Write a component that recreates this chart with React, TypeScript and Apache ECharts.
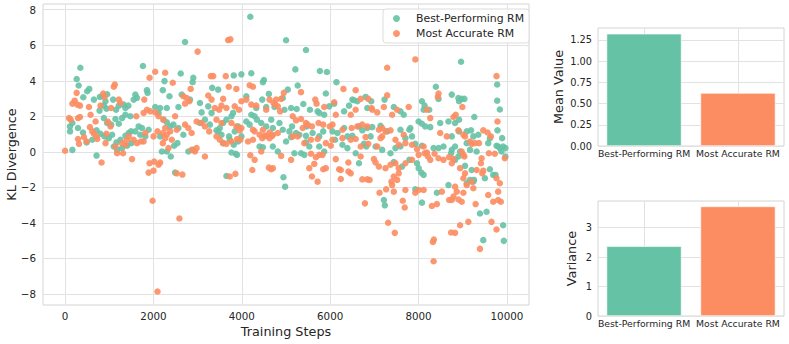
import React, { useEffect, useRef } from 'react';
import * as echarts from 'echarts';

const seriesNames = ['Best-Performing RM', 'Most Accurate RM'];
const barCategories = ['Best-Performing RM', 'Most Accurate RM'];

// [training step, KL divergence]
const bestPerforming: number[][] = [
  [110,1.43],[112,1.15],[165,1.62],[165,0.11],[262,4.10],[307,3.73],[345,4.73],[412,3.07],[292,1.34],[405,1.09],[487,0.53],[500,3.41],[547,3.54],[615,0.68],[652,2.94],[712,-0.21],[712,1.21],[780,2.32],[787,3.09],[802,1.02],[855,3.13],[877,2.60],[877,1.90],[892,0.87],[915,2.85],[937,2.43],[952,3.24],[952,1.62],[990,0.77],[1042,1.53],[1065,0.96],[1087,2.94],[1102,0.30],[1140,1.85],[1155,2.37],[1162,0.53],[1177,0.11],[1215,2.60],[1215,1.58],[1252,0.68],[1290,1.90],[1290,0.21],[1327,2.66],[1365,2.47],[1365,2.09],[1365,0.90],[1402,0.34],[1432,2.60],[1440,1.06],[1477,2.00],[1492,1.15],[1500,0.49],[1552,2.94],
  [2715,6.18],[1762,4.83],[2617,4.41],[2902,4.17],[2887,3.92],[2250,3.98],[1852,3.47],[1867,3.32],[2212,3.47],[1590,3.23],[1627,3.04],[2362,3.13],[2640,3.23],[3330,3.60],[2040,2.52],[2152,2.47],[2302,2.47],[2115,2.19],[2565,2.52],[2827,2.94],[3052,2.75],[3090,2.22],[3240,2.56],[3315,2.19],[1665,1.43],[1740,1.34],[1890,1.24],[1702,0.96],[1590,1.15],[1815,0.87],[2227,1.81],[2302,1.66],[2377,1.43],[2452,1.53],[2565,1.34],[2677,0.96],[2152,0.87],[2190,0.02],[2302,0.02],[2392,-0.26],[2467,0.34],[2542,0.49],[2490,-1.17],[2790,0.02],[2902,0.11],[3052,1.62],[3165,1.81],[3277,1.53],
  [4192,7.60],[5002,6.28],[3817,4.30],[3990,4.36],[4215,4.42],[4477,3.92],[4500,4.04],[3465,3.50],[4612,3.26],[4927,3.03],[5040,3.50],[4102,3.13],[4327,2.47],[4462,2.94],[4552,2.52],[4740,2.52],[4965,2.37],[5115,2.47],[3652,1.81],[3765,2.00],[3802,2.19],[3577,1.62],[3502,1.34],[3427,1.21],[3540,0.96],[3712,0.87],[3840,1.15],[3915,1.43],[4102,1.71],[4215,2.09],[4290,2.00],[4342,1.81],[4177,1.53],[4440,1.62],[4552,1.43],[4665,1.81],[4702,1.34],[4852,1.62],[4927,1.24],[5077,1.15],[5137,1.43],[3577,0.49],[3727,0.68],[3817,0.40],[3915,0.58],[3990,0.87],[3765,-0.04],[3862,-0.11],[3892,-0.17],[3465,1.15],[4402,0.30],[4477,0.26],[4702,0.30],[4815,0.02],[5002,0.58],[5115,0.83],[3652,-1.36],[4942,-1.43],[4980,-1.96],
  [5452,5.73],[5212,4.64],[5767,4.55],[5925,4.49],[5265,3.73],[6142,3.92],[5902,3.28],[5392,2.69],[5242,2.41],[5542,2.37],[5715,2.28],[5752,2.19],[5865,2.09],[5977,2.56],[6090,2.71],[6315,2.28],[6427,2.60],[6502,2.94],[6540,2.90],[6615,2.85],[6802,3.09],[6840,2.47],[6930,2.85],[5227,1.06],[5302,0.96],[5452,0.90],[5467,1.43],[5602,1.06],[5752,0.87],[5842,1.15],[6052,1.15],[6165,1.06],[6315,1.34],[6390,0.87],[6502,0.90],[6652,1.43],[6727,1.21],[6840,1.34],[6915,0.87],[5190,-0.08],[5340,-0.08],[5452,0.53],[5527,0.30],[5752,0.30],[5865,0.02],[6112,0.68],[6277,0.40],[6390,0.21],[6577,-0.08],[6765,0.45],[6817,0.30],[5415,-0.17],[6652,-0.64],
  [8392,3.66],[7230,2.94],[7440,2.52],[7590,2.28],[7665,2.09],[8077,2.85],[8137,2.60],[8115,2.37],[8242,2.37],[8452,2.98],[8490,1.62],[8677,1.71],[6952,1.39],[7140,1.47],[7290,1.15],[7590,1.24],[7792,1.24],[7815,1.34],[8002,1.71],[8077,1.58],[8152,1.43],[8265,1.39],[7027,0.30],[7177,0.11],[7365,-0.08],[7477,0.21],[7590,0.30],[7702,0.77],[7852,0.87],[7927,0.45],[8077,0.34],[8340,0.21],[8452,0.21],[8565,0.30],[8737,-0.08],[7440,-0.58],[7627,-0.83],[7792,-0.45],[8002,-0.92],[8062,-1.17],[8115,-1.30],[7965,-0.64],[7927,-2.11],[8415,-2.30],[8077,-2.86],[7215,-2.71],[7237,-3.01],[8677,-1.87],
  [8962,5.07],[9780,3.79],[9780,2.88],[9840,2.38],[8752,3.22],[8902,3.03],[8977,2.98],[9037,2.98],[8917,2.85],[9262,1.96],[8917,1.81],[8827,1.62],[8752,0.87],[8917,1.15],[9090,1.15],[9187,1.21],[9240,0.87],[9352,0.96],[9615,0.77],[9787,1.21],[9892,0.77],[8752,0.11],[8827,0.30],[8940,0.02],[9090,0.49],[9165,0.11],[9315,0.02],[9577,0.49],[9765,0.34],[9802,0.30],[9840,0.21],[9877,0.02],[9915,0.30],[9967,0.21],[9967,-0.26],[8902,-0.26],[8827,-0.45],[9052,-0.79],[9202,-1.02],[9165,-1.58],[9255,-1.58],[9240,-1.68],[9502,-1.49],[9615,-0.98],[9690,-1.30],[9742,-1.30],[9090,-1.77],[9390,-3.47],[9540,-3.37],[9915,-4.13],[9465,-4.97],[9930,-5.01],
];

const mostAccurate: number[][] = [
  [0,0.06],[90,1.90],[127,1.81],[165,2.71],[217,2.88],[262,3.32],[277,2.66],[292,1.90],[292,0.72],[315,0.45],[337,2.60],[337,1.96],[427,0.83],[487,0.58],[540,2.52],[562,1.39],[577,2.09],[615,1.15],[652,1.02],[690,1.71],[712,0.87],[727,0.73],[802,2.60],[825,-0.60],[862,3.28],[892,3.09],[915,0.49],[937,1.02],[967,1.71],[1027,1.43],[1042,2.47],[1102,3.66],[1125,3.79],[1140,0.30],[1177,-0.08],[1215,2.94],[1252,2.75],[1290,0.49],[1312,-0.08],[1365,0.40],[1402,0.68],[1440,0.87],[1515,-0.41],
  [3000,5.64],[2040,4.51],[2265,4.45],[1912,4.17],[2437,3.89],[3300,4.26],[2842,3.54],[2752,3.03],[2812,2.85],[3240,3.17],[3315,2.94],[2677,3.13],[2715,2.71],[1792,2.94],[1852,2.37],[1927,2.28],[2040,2.22],[1777,2.19],[1612,2.00],[1552,0.68],[1627,0.49],[1717,0.58],[1815,1.06],[1777,0.58],[2115,2.00],[2227,1.81],[2265,1.34],[2377,1.15],[2212,1.06],[2092,1.15],[2002,0.87],[2490,2.00],[2527,1.24],[2715,1.53],[2790,1.34],[2865,1.06],[2977,1.71],[3090,1.62],[3165,1.43],[3262,1.15],[2302,0.96],[2265,0.77],[2212,0.49],[2340,0.21],[2415,0.68],[2865,0.11],[2940,0.02],[2977,0.21],[1912,-0.64],[2017,-0.55],[2115,-0.73],[2152,-0.60],[1890,-1.17],[2002,-1.06],[2527,-1.21],[2655,-1.28],[1980,-2.75],[2587,-3.75],[2092,-7.86],[3165,-0.26],
  [3690,6.29],[3742,6.33],[3637,4.26],[3705,3.66],[3877,3.54],[4177,3.75],[4252,3.66],[3352,4.26],[4950,3.32],[4890,2.98],[4777,2.94],[3577,2.98],[3540,2.60],[3652,2.47],[3487,2.37],[3390,2.47],[3840,2.56],[3937,2.37],[3990,2.85],[4102,2.94],[4215,2.66],[4327,2.60],[4627,2.94],[4717,2.75],[4755,2.66],[4552,2.37],[4815,2.56],[4867,2.28],[3427,1.81],[3540,1.62],[3765,1.62],[3877,1.43],[3990,1.34],[3952,1.21],[4252,1.24],[4290,1.15],[4477,1.24],[4515,0.90],[4402,0.96],[4627,1.09],[4702,0.96],[4815,1.06],[3427,0.87],[3502,0.68],[3577,0.49],[3652,0.45],[3765,0.58],[3892,0.72],[3967,0.68],[4140,0.58],[4252,0.68],[4462,0.77],[4552,0.90],[4627,0.77],[4687,0.90],[4192,-0.19],[4290,-0.45],[4237,-1.02],[4612,-0.89],[4665,-0.98],[4702,-0.92],[4890,-0.23],[5115,-0.45],[3727,-1.39],[3855,-1.24],[4440,0.02],
  [5340,3.36],[6300,3.54],[6577,3.47],[5662,2.94],[5692,2.71],[5865,2.52],[6090,2.79],[6127,2.09],[6465,2.09],[6577,2.37],[6690,2.98],[6862,2.98],[6937,2.47],[5152,2.00],[5227,1.77],[5340,1.85],[5452,1.62],[5377,1.34],[5490,1.53],[5587,1.43],[5737,1.62],[5842,1.53],[5992,1.43],[6052,1.53],[6277,1.24],[6487,1.34],[6615,1.43],[6727,1.53],[6840,1.43],[5152,0.87],[5265,0.87],[5415,0.49],[5565,0.68],[5715,0.72],[5902,0.49],[6015,0.34],[6052,0.68],[6277,0.77],[6465,0.68],[6577,0.72],[6690,0.30],[6802,0.83],[6862,0.45],[5527,-0.92],[5640,-0.68],[5677,-0.30],[5752,-0.17],[5827,-0.17],[5565,-0.11],[5902,-0.92],[5842,-0.98],[6127,-0.41],[6202,-0.98],[6240,-1.02],[6412,-0.60],[6412,-1.11],[6465,-1.21],[6690,-0.26],[6727,-1.55],[6840,-1.55],[6892,-1.58],[5587,-1.39],[5715,-1.68],[6240,-1.53],[6787,-2.90],
  [7290,4.73],[7927,5.20],[7290,3.18],[7515,2.37],[7402,2.09],[7777,2.52],[7065,2.22],[6952,2.37],[7215,2.52],[8190,2.37],[8265,1.90],[8452,3.28],[8437,3.09],[8490,1.06],[8640,0.87],[7102,1.24],[7177,1.34],[7252,1.15],[7365,1.21],[7177,0.87],[7065,0.30],[7140,0.77],[7477,0.68],[7665,0.96],[7552,0.40],[7702,0.49],[7852,0.40],[7965,0.15],[8115,0.30],[8190,-0.04],[6990,-0.41],[7027,-0.60],[7102,-0.83],[7252,-0.92],[7365,-0.73],[7477,-0.64],[7552,-0.92],[7702,-0.64],[7852,-0.45],[8002,-0.17],[8137,-0.08],[8212,-0.26],[8265,-0.45],[8362,-0.11],[8452,-0.36],[8565,-0.45],[8692,-0.30],[7440,-1.39],[7387,-1.68],[7515,-1.58],[7402,-1.87],[7552,-1.21],[7117,-2.30],[7267,-2.11],[7440,-2.24],[7702,-2.15],[7927,-2.30],[8002,-2.15],[8115,-2.15],[8302,-3.05],[8415,-2.94],[8527,-2.24],[8692,-2.71],[7642,-2.75],[7687,-3.13],[7312,-3.99],[7462,-4.56],[8325,-5.07],[8347,-4.94],[8340,-6.16],[8737,-4.54],
  [9765,4.26],[8992,2.52],[8842,2.09],[8790,1.96],[9787,1.71],[9465,1.21],[9562,1.09],[9637,0.87],[8902,1.21],[9015,0.96],[9052,0.87],[9165,0.58],[9202,0.45],[9277,0.49],[9367,0.49],[8977,0.02],[9015,-0.17],[9037,-0.26],[8790,-0.41],[8752,-0.64],[9592,-0.08],[9427,-0.36],[9412,-0.64],[9442,-1.21],[9465,-1.06],[9727,-0.11],[9952,-0.36],[8940,-0.92],[9052,-1.21],[9015,-1.49],[9202,-1.68],[9240,-2.05],[9315,-1.02],[9090,-1.87],[8827,-1.96],[8865,-2.24],[8902,-2.68],[8977,-2.81],[9015,-2.30],[8790,-2.52],[8752,-2.71],[9765,-1.49],[9840,-1.77],[9802,-2.24],[9577,-2.43],[9690,-2.81],[9802,-2.71],[9862,-2.81],[9292,-2.94],[9127,-3.94],[8940,-4.13],[8827,-4.56],[9652,-3.94],[9765,-4.37],[9390,-5.46],
];

const meanValues = [1.322, 0.624];
const varianceValues = [2.366, 3.716];

const xTicks = [0, 2000, 4000, 6000, 8000, 10000];
const yTicks = [-8, -6, -4, -2, 0, 2, 4, 6, 8];
const meanTicks = [0, 0.25, 0.5, 0.75, 1, 1.25];
const varianceTicks = [0, 1, 2, 3];
const barPositions = [0, 1];

const GREEN = '#66c2a5';
const ORANGE = '#fc8d62';
const FONT = 'DejaVu Sans';
const GRID_LINE = '#e2e2e2';
const FRAME = '#d4d4d4';
const TEXT = '#262626';

const fmtNum = (v: number) => (v < 0 ? '\u2212' + Math.abs(v) : String(v));

function valueAxis(gridIndex: number, min: number, max: number, ticks: number[], extra: any) {
  return {
    type: 'value', gridIndex, min, max,
    axisLine: { show: false },
    axisTick: { show: false, customValues: ticks },
    axisLabel: { customValues: ticks, color: TEXT, fontFamily: FONT, ...extra.axisLabel },
    splitLine: { show: true, lineStyle: { color: GRID_LINE, width: 1 } },
    nameMoveOverlap: false,
    ...extra.rest,
  };
}

const nameStyle = { fontSize: 12.8, color: TEXT, fontFamily: FONT };

export default function App() {
  const ref = useRef<HTMLDivElement>(null);
  useEffect(() => {
    if (!ref.current) return;
    const chart = echarts.init(ref.current, undefined, { renderer: 'svg' });
    const gridBase = {
      show: true, borderColor: FRAME, borderWidth: 1, backgroundColor: 'transparent',
      containLabel: false, outerBoundsMode: 'none',
    };
    const option: any = {
      animation: false,
      textStyle: { fontFamily: FONT },
      grid: [
        { ...gridBase, left: 43, top: 4, width: 486, height: 301 },
        { ...gridBase, left: 598, top: 28, width: 186, height: 118 },
        { ...gridBase, left: 598, top: 201, width: 186, height: 115 },
      ],
      legend: {
        data: seriesNames,
        orient: 'vertical',
        left: 383,
        top: 9,
        padding: [3, 5, 3, 10],
        itemGap: 2,
        itemWidth: 7,
        itemHeight: 7,
        icon: 'circle',
        backgroundColor: 'rgba(255,255,255,0.85)',
        borderColor: '#dddddd',
        borderWidth: 1,
        borderRadius: 3,
        textStyle: { fontFamily: FONT, fontSize: 10.9, color: TEXT, padding: [0, 0, 0, 11], lineHeight: 13 },
      },
      xAxis: [
        valueAxis(0, -500, 10500, xTicks, {
          axisLabel: { fontSize: 10.3, margin: 6, formatter: (v: number) => fmtNum(v) },
          rest: { name: 'Training Steps', nameLocation: 'middle', nameGap: 20, nameTextStyle: nameStyle },
        }),
        valueAxis(1, -0.49, 1.49, barPositions, {
          axisLabel: { fontSize: 9.3, margin: 3, formatter: (v: number) => barCategories[Math.round(v)] },
          rest: {},
        }),
        valueAxis(2, -0.49, 1.49, barPositions, {
          axisLabel: { fontSize: 9.3, margin: 3, formatter: (v: number) => barCategories[Math.round(v)] },
          rest: {},
        }),
      ],
      yAxis: [
        valueAxis(0, -8.62, 8.32, yTicks, {
          axisLabel: { fontSize: 10.3, margin: 7, formatter: (v: number) => fmtNum(v) },
          rest: { name: 'KL Divergence', nameLocation: 'middle', nameGap: 25, nameTextStyle: nameStyle },
        }),
        valueAxis(1, 0, 1.39, meanTicks, {
          axisLabel: { fontSize: 9.8, margin: 6, formatter: (v: number) => v.toFixed(2) },
          rest: { name: 'Mean Value', nameLocation: 'middle', nameGap: 33, nameTextStyle: nameStyle },
        }),
        valueAxis(2, 0, 3.9, varianceTicks, {
          axisLabel: { fontSize: 9.8, margin: 6, formatter: (v: number) => String(v) },
          rest: { name: 'Variance', nameLocation: 'middle', nameGap: 20, nameTextStyle: nameStyle },
        }),
      ],
      series: [
        {
          name: seriesNames[0], type: 'scatter', xAxisIndex: 0, yAxisIndex: 0,
          data: bestPerforming, symbolSize: 6.5, itemStyle: { color: GREEN, opacity: 0.9 },
        },
        {
          name: seriesNames[1], type: 'scatter', xAxisIndex: 0, yAxisIndex: 0,
          data: mostAccurate, symbolSize: 6.5, itemStyle: { color: ORANGE, opacity: 0.9 },
        },
        {
          type: 'bar', xAxisIndex: 1, yAxisIndex: 1, barWidth: 75,
          data: meanValues.map((v, i) => ({ value: [barPositions[i], v], itemStyle: { color: i === 0 ? GREEN : ORANGE } })),
          itemStyle: { borderColor: '#ffffff', borderWidth: 0.6 },
        },
        {
          type: 'bar', xAxisIndex: 2, yAxisIndex: 2, barWidth: 75,
          data: varianceValues.map((v, i) => ({ value: [barPositions[i], v], itemStyle: { color: i === 0 ? GREEN : ORANGE } })),
          itemStyle: { borderColor: '#ffffff', borderWidth: 0.6 },
        },
      ],
    };
    chart.setOption(option);
    return () => chart.dispose();
  }, []);
  return <div ref={ref} style={{ position: 'absolute', left: 0, top: 0, width: 789, height: 344 }} />;
}
